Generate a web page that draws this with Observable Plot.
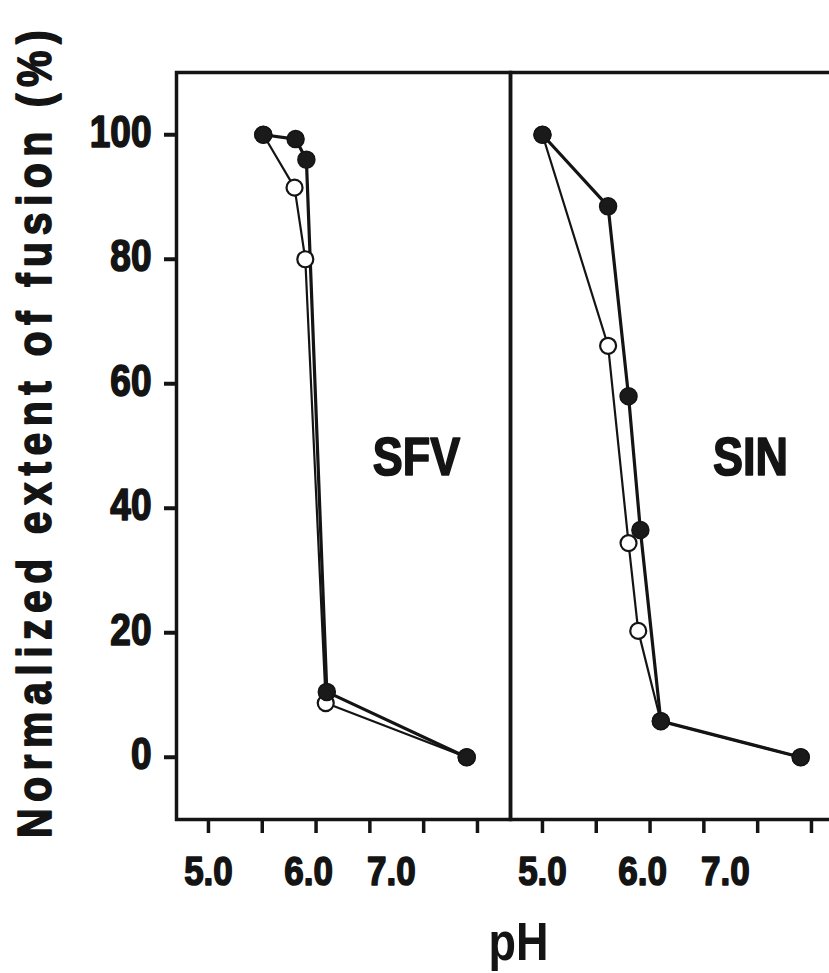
<!DOCTYPE html>
<html>
<head>
<meta charset="utf-8">
<script src="https://cdn.jsdelivr.net/npm/d3@7"></script>
<script src="https://cdn.jsdelivr.net/npm/@observablehq/plot@0.6"></script>
<style>
  html, body { margin: 0; padding: 0; background: #fff; overflow: hidden; }
  #chart svg { display: block; max-width: none; height: 973px; }
</style>
</head>
<body>
<div id="chart"></div>
<script>
// Virus panels
const panels = ["SFV", "SIN"];

// SFV: filled and open symbols (pH, normalized extent of fusion %)
const sfvFilledPH = [5.51, 5.81, 5.91, 6.10, 7.40];
const sfvFilledFusion = [100, 99.3, 96.0, 10.5, 0];
const sfvOpenPH = [5.51, 5.80, 5.90, 6.09, 7.40];
const sfvOpenFusion = [100, 91.5, 80.0, 8.7, 0];

// SIN: filled and open symbols
const sinFilledPH = [5.0, 5.61, 5.80, 5.91, 6.10, 7.40];
const sinFilledFusion = [100, 88.5, 58.0, 36.5, 5.8, 0];
const sinOpenPH = [5.0, 5.61, 5.80, 5.89, 6.10, 7.40];
const sinOpenFusion = [100, 66.1, 34.4, 20.3, 5.8, 0];

// Axis ticks and labels
const fusionTicks = [0, 20, 40, 60, 80, 100];
const pHTicks = [5.0, 5.5, 6.0, 6.5, 7.0, 7.5];
const pHTickLabels = ["5.0", "6.0", "7.0"];
const pHTickLabelAt = [5.0, 5.93, 6.70];

const yTitle = "Normalized extent of fusion (%)";
const xTitle = "pH";

// Long-format table built from the arrays above
function rows(virus, symbol, ph, fusion) {
  return ph.map((p, i) => ({virus, symbol, pH: p, fusion: fusion[i]}));
}
const filled = [
  ...rows("SFV", "filled", sfvFilledPH, sfvFilledFusion),
  ...rows("SIN", "filled", sinFilledPH, sinFilledFusion)
];
const open = [
  ...rows("SFV", "open", sfvOpenPH, sfvOpenFusion),
  ...rows("SIN", "open", sinOpenPH, sinOpenFusion)
];
const tickLabels = pHTickLabels.map((t, i) => ({label: t, pH: pHTickLabelAt[i]}));

const ink = "#141414";
const font = "'Liberation Sans', Arial, Helvetica, sans-serif";
// a thin outline under the fill makes the bold lettering heavier
const heavy = {stroke: ink, strokeWidth: 1.4, fill: ink};

const chart = Plot.plot({
  width: 844,
  height: 973,
  marginLeft: 176,
  marginRight: 0,
  marginTop: 72,
  marginBottom: 154,
  style: {fontFamily: font, background: "#fff", color: ink},
  fx: {domain: panels, padding: 0, axis: null},
  x: {domain: [4.703, 7.807]},
  y: {domain: [-10, 110]},
  marks: [
    Plot.frame({stroke: ink, strokeWidth: 3.5}),
    Plot.axisY({
      ticks: fusionTicks,
      tickSize: 12,
      strokeWidth: 4,
      stroke: ink,
      tickFormat: () => "",
      label: null
    }),
    Plot.text(fusionTicks, {
      fx: () => "SFV",
      y: (d) => d,
      text: (d) => String(d),
      frameAnchor: "left",
      textAnchor: "end",
      lineAnchor: "middle",
      dx: -25,
      dy: -2,
      fontSize: 37,
      fontWeight: "bold",
      ...heavy
    }),
    Plot.axisX({
      ticks: pHTicks,
      tickSize: 14,
      strokeWidth: 3.5,
      stroke: ink,
      tickFormat: () => "",
      label: null
    }),
    Plot.text(tickLabels, {
      x: "pH",
      text: "label",
      frameAnchor: "bottom",
      dy: 52,
      lineAnchor: "middle",
      fontSize: 35,
      fontWeight: "bold",
      ...heavy
    }),
    Plot.line(open, {
      x: "pH", y: "fusion", fx: "virus",
      stroke: ink, strokeWidth: 2.2, strokeLinejoin: "round"
    }),
    Plot.line(filled, {
      x: "pH", y: "fusion", fx: "virus",
      stroke: ink, strokeWidth: 3.2, strokeLinejoin: "round"
    }),
    Plot.dot(open, {
      x: "pH", y: "fusion", fx: "virus",
      r: 8, fill: "#fff", stroke: ink, strokeWidth: 2.2
    }),
    Plot.dot(filled, {
      x: "pH", y: "fusion", fx: "virus",
      r: 8.5, fill: "#1a1a1a", stroke: ink, strokeWidth: 1.5
    }),
    Plot.text(panels, {
      fx: (d) => d,
      text: (d) => d,
      frameAnchor: "middle",
      dx: 73,
      dy: 11.5,
      lineAnchor: "middle",
      fontSize: 45,
      fontWeight: "bold",
      ...heavy
    }),
    Plot.text([yTitle], {
      fx: () => "SFV",
      text: (d) => d,
      frameAnchor: "left",
      rotate: -90,
      dx: -141,
      dy: -15,
      lineAnchor: "middle",
      textAnchor: "middle",
      fontSize: 41,
      fontWeight: "bold",
      ...heavy
    }),
    Plot.text([xTitle], {
      fx: () => "SIN",
      text: (d) => d,
      frameAnchor: "bottom-left",
      dx: 8,
      dy: 123.5,
      lineAnchor: "middle",
      textAnchor: "middle",
      fontSize: 45,
      fontWeight: "bold",
      fill: ink
    })
  ]
});

chart.style.maxWidth = "none";
document.getElementById("chart").append(chart);

// Tall, tightly set lettering: widen the title's tracking and stretch every glyph vertically
const stretch = 1.18;
chart.querySelectorAll("text").forEach((t) => {
  if (t.textContent === yTitle) t.style.letterSpacing = "6.5px";
});
chart.querySelectorAll("text").forEach((t) => {
  if (!t.textContent) return;
  const b = t.getBBox();
  const cy = b.y + b.height / 2;
  const prev = t.getAttribute("transform") || "";
  t.setAttribute("transform", `${prev} translate(0,${cy}) scale(1,${stretch}) translate(0,${-cy})`);
});
</script>
</body>
</html>
